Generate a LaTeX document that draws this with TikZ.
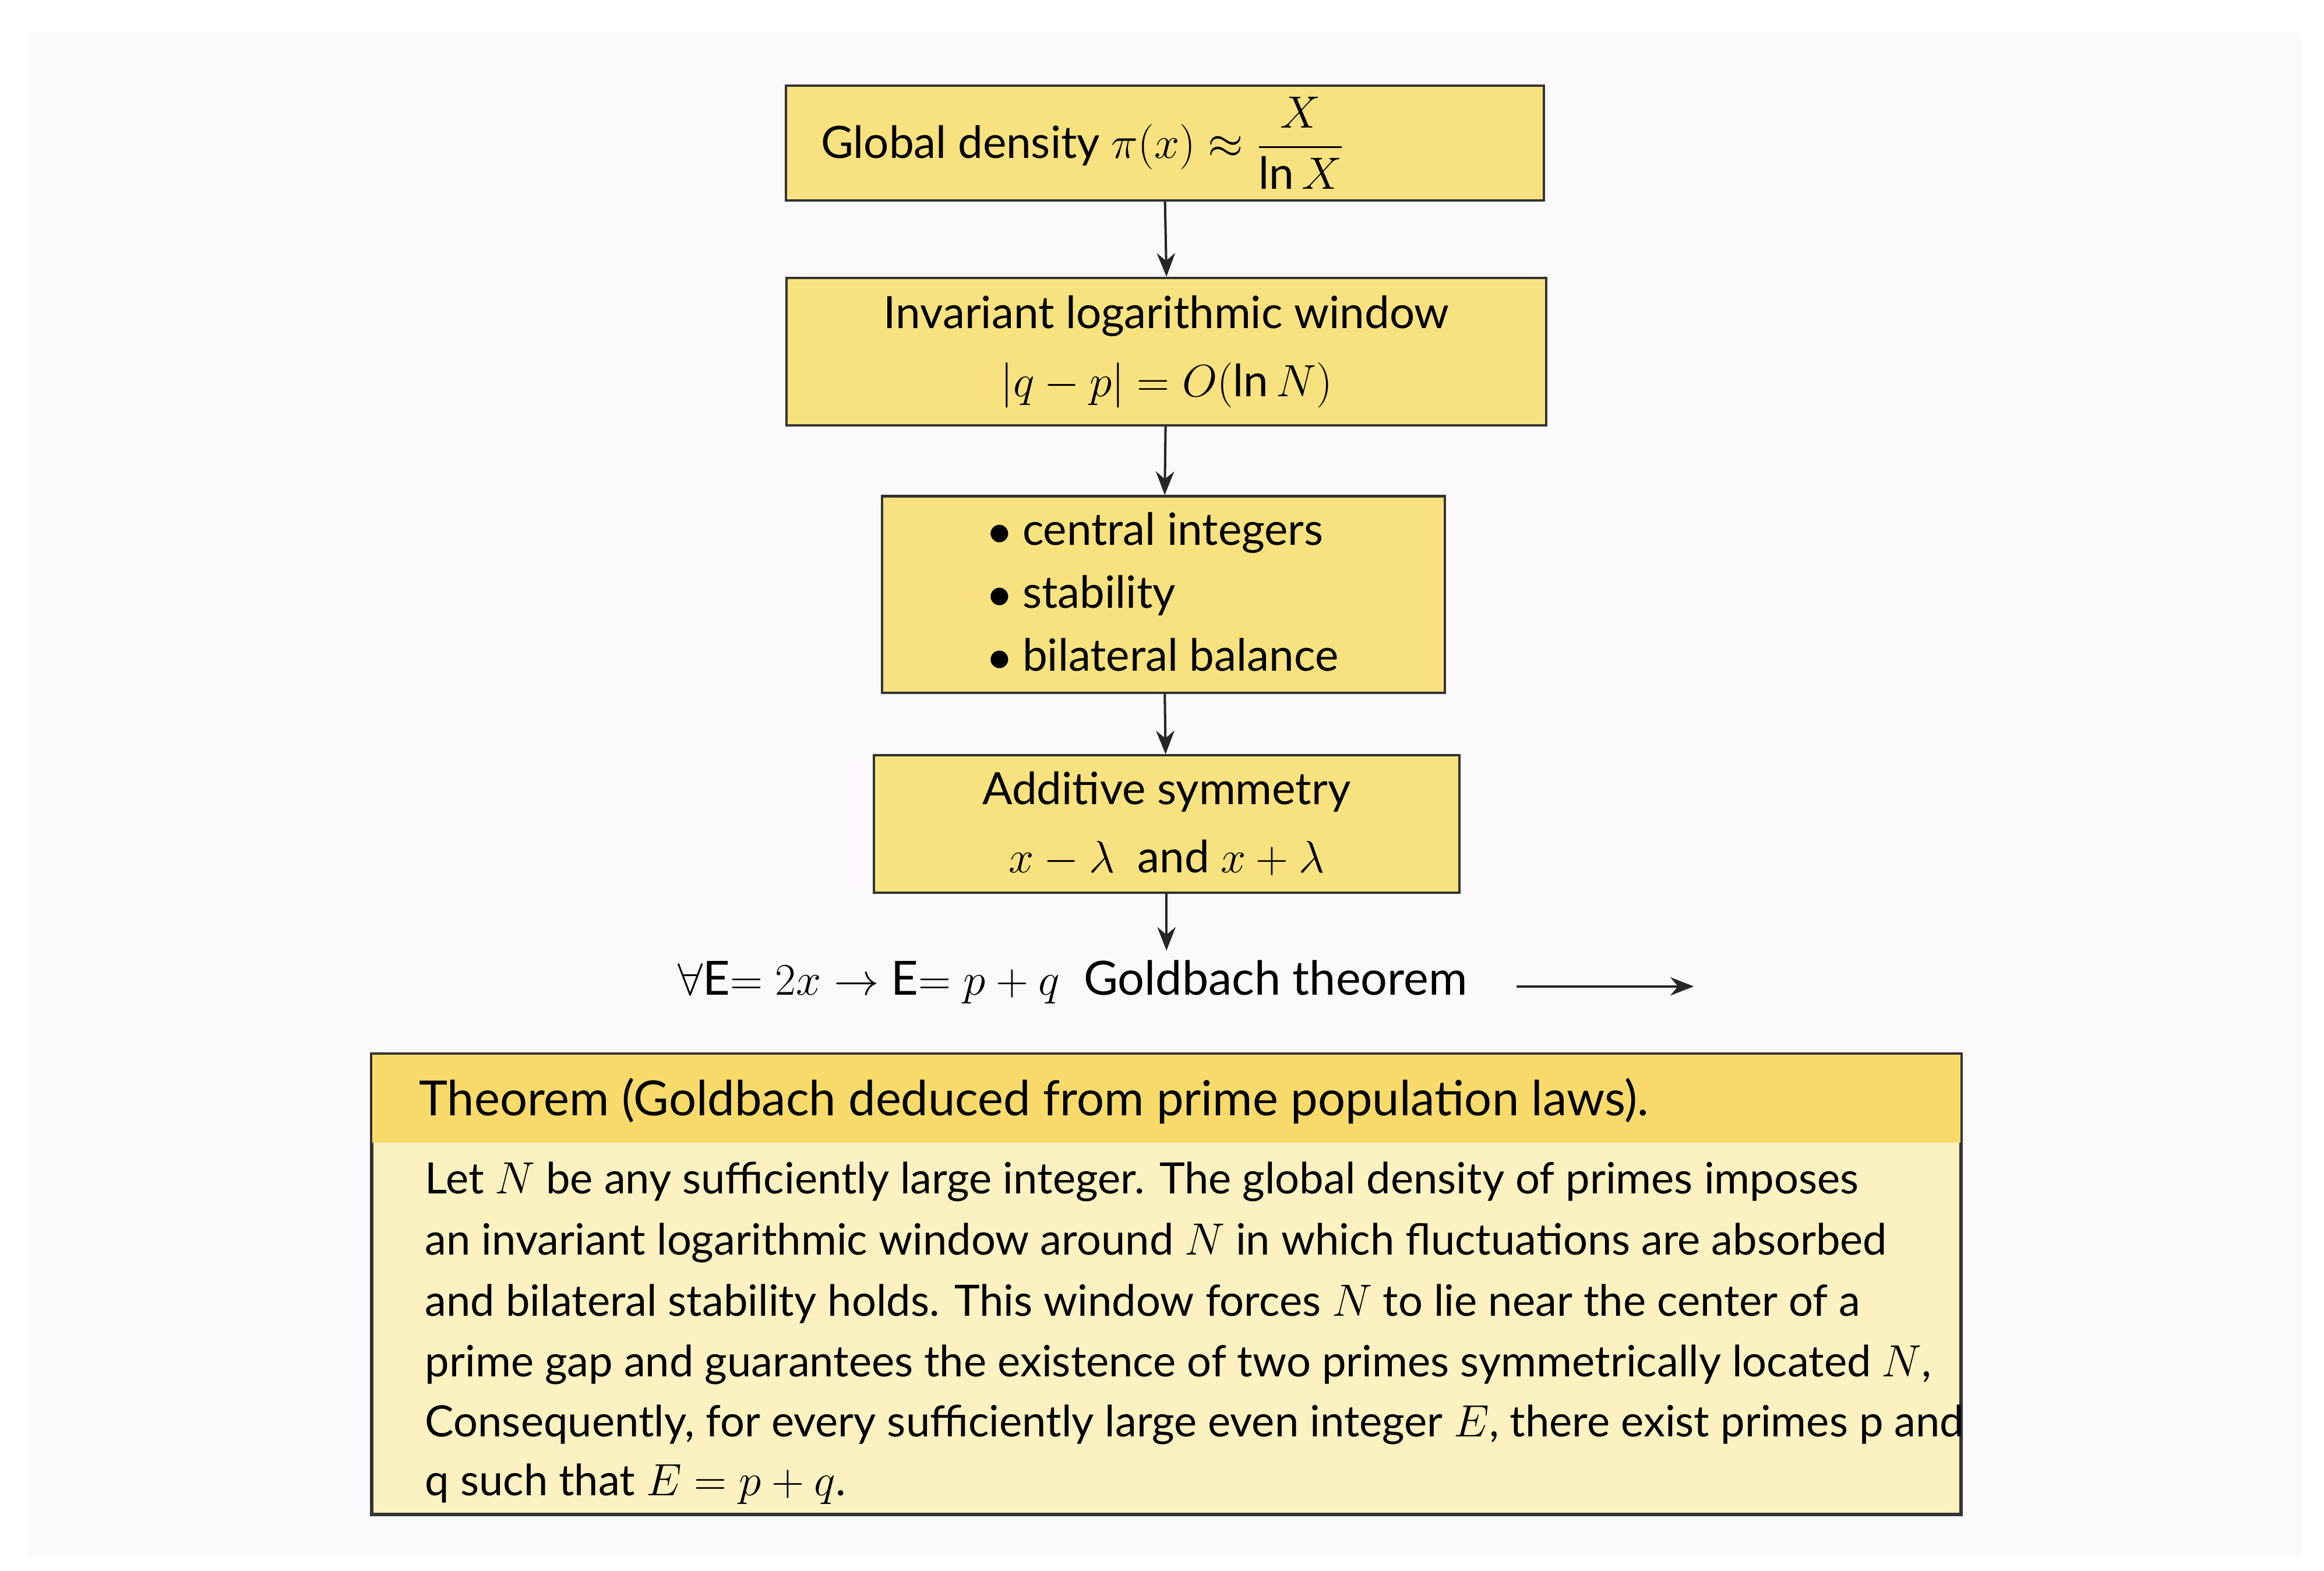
\documentclass[tikz,border=0pt]{standalone}
\usepackage{amsmath}
\usepackage{fontspec}
\setmainfont{Lato}
\usetikzlibrary{arrows.meta}
\definecolor{bx}{HTML}{F8E27F}
\definecolor{hd}{HTML}{F7DA6A}
\definecolor{bd}{HTML}{FCF1C0}
\definecolor{bg}{HTML}{FBF9FC}
\tikzset{
 fbox/.style={draw=black!80,line width=0.9pt,fill=bx,align=center,font=\fontsize{17}{26}\selectfont,inner sep=0pt},
 arr/.style={-{Stealth[length=9pt,width=7pt]},line width=0.9pt,black!85},
 body/.style={anchor=west,font=\fontsize{16.5}{20}\selectfont,inner sep=0pt}
}
\begin{document}
\begin{tikzpicture}[x=0.02cm,y=-0.02cm]
\useasboundingbox (0,0) rectangle (1560,1054);
\fill[white] (0,0) rectangle (1560,1054);
\fill[bg] (18,22) rectangle (1545,1045);
\node[fbox,minimum width=509*0.02cm,minimum height=77*0.02cm] (b1) at (782,96) {Global density $\pi(x)\approx\dfrac{X}{\ln X}$\hspace{2.2cm}};
\node[fbox,minimum width=510*0.02cm,minimum height=99*0.02cm] (b2) at (783,236) {Invariant logarithmic window\\ $|q-p|=O(\ln N)$};
\node[fbox,minimum width=378*0.02cm,minimum height=132*0.02cm] (b3) at (781,399) {\begin{tabular}{@{}l@{}}$\bullet$ central integers\\[-2pt] $\bullet$ stability\\[-2pt] $\bullet$ bilateral balance\end{tabular}};
\node[fbox,minimum width=393*0.02cm,minimum height=92*0.02cm] (b4) at (783,553) {Additive symmetry\\ $x-\lambda$\ \ and $x+\lambda$};
\node[font=\fontsize{18}{22}\selectfont,inner sep=0pt] (g) at (720,659) {$\forall$E$=2x\rightarrow$ E$=p+q$\ \ Goldbach theorem};
\coordinate (a1) at (1018,662);
\coordinate (a2) at (1137,662);
\draw[arr] (b1.south) -- (b2.north);
\draw[arr] (b2) -- (b3);
\draw[arr] (b3) -- (b4);
\draw[arr] (b4.south) -- (783,638);
\draw[arr] (a1) -- (a2);
\node[draw=black!80,line width=0.9pt,fill=bd,minimum width=1066*0.02cm,minimum height=308*0.02cm,inner sep=0pt] (t) at (783,862) {};
\fill[hd] (t.north west) rectangle (t.east |- 0,767);
\draw[black!80,line width=0.9pt] (t.north west) rectangle (t.south east);
\node[anchor=west,inner sep=0pt,font=\fontsize{18.5}{22}\selectfont] (th) at (281,739) {Theorem (Goldbach deduced from prime population laws).};
\node[body] (l1) at (285,793) {Let $N$ be any sufficiently large integer. The global density of primes imposes};
\node[body] (l2) at (285,834) {an invariant logarithmic window around $N$ in which fluctuations are absorbed};
\node[body] (l3) at (285,875) {and bilateral stability holds. This window forces $N$ to lie near the center of a};
\node[body] (l4) at (285,916) {prime gap and guarantees the existence of two primes symmetrically located $N$,};
\node[body] (l5) at (285,956) {Consequently, for every sufficiently large even integer $E$, there exist primes p and};
\node[body] (l6) at (285,996) {q such that $E=p+q$.};
\end{tikzpicture}
\end{document}
